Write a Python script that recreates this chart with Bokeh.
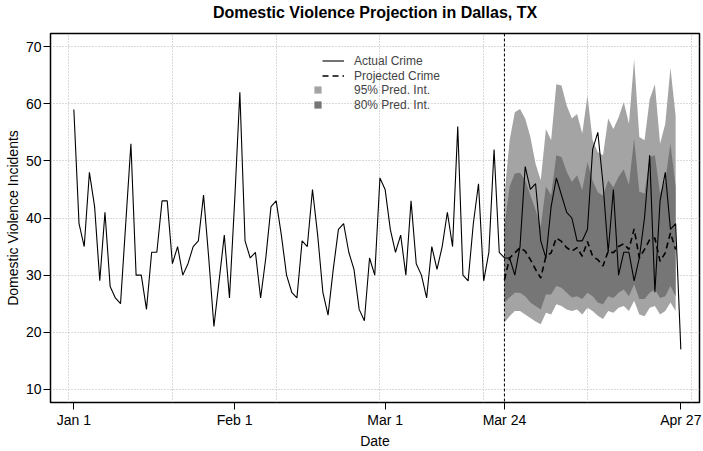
from datetime import date
from bokeh.plotting import figure
from bokeh.models import (ColumnDataSource, FixedTicker, Span, Legend, LegendItem, Range1d,
                          LinearAxis)
from bokeh.embed import file_html
from bokeh.resources import INLINE

# ---------------- data ----------------
start = date(2020, 1, 1)
# daily actual domestic violence incidents, Jan 1 - Apr 27, 2020
actual = [59, 39, 35, 48, 42, 29, 41, 28, 26, 25, 39, 53, 30, 30, 24, 34, 34, 43, 43, 32,
          35, 30, 32, 35, 36, 44, 33, 21, 29, 37, 26, 43, 62, 36, 33, 34, 26, 33, 42, 43,
          37, 30, 27, 26, 36, 35, 45, 37, 27, 23, 31, 38, 39, 34, 31, 24, 22, 33, 30, 47,
          45, 38, 34, 37, 30, 43, 32, 30, 26, 35, 31, 35, 41, 35, 56, 30, 29, 39, 46, 29,
          34, 52, 34,
          33, 33, 30, 35, 49, 45, 46, 36, 33, 42, 47, 44, 41, 40, 36, 36, 38, 52, 55, 46,
          34, 45, 30, 34, 34, 29, 33, 40, 51, 27, 43, 48, 38, 39, 17]
# projection Mar 24 - Apr 26
projected = [29.2, 33.0, 33.9, 34.8, 34.2, 32.7, 31.0, 29.5, 33.3, 33.9, 36.5, 35.9, 34.8,
             34.2, 34.8, 33.3, 35.9, 33.3, 32.7, 31.6, 34.2, 33.9, 35.0, 35.5, 34.5, 38.1,
             33.0, 34.5, 36.2, 36.5, 32.4, 33.9, 37.4, 34.5]
hi95 = [44.0, 53.6, 58.5, 59.1, 57.4, 54.2, 49.5, 46.6, 55.6, 53.6, 63.4, 63.2, 59.7, 57.4,
        58.2, 54.8, 61.4, 53.6, 51.5, 51.0, 57.4, 55.6, 57.6, 60.3, 56.5, 67.8, 54.2, 53.6,
        60.8, 63.4, 53.0, 56.5, 66.3, 57.9]
hi80 = [38.5, 45.5, 47.8, 47.9, 46.6, 44.0, 41.4, 38.5, 45.5, 44.0, 51.0, 50.7, 48.1, 46.3,
        47.5, 44.9, 49.8, 46.5, 44.5, 43.9, 46.6, 45.4, 47.2, 48.5, 45.8, 53.9, 44.6, 44.3,
        50.7, 51.0, 44.3, 46.6, 53.0, 45.5]
lo80 = [25.2, 26.1, 26.9, 26.9, 26.3, 25.2, 24.6, 24.0, 26.6, 26.6, 28.1, 27.8, 26.9, 26.1,
        26.3, 25.8, 26.9, 26.3, 25.2, 24.9, 26.3, 26.0, 26.9, 27.5, 26.3, 28.4, 25.8, 25.8,
        26.9, 27.5, 26.0, 26.3, 28.1, 26.3]
lo95 = [21.7, 22.8, 23.7, 23.7, 23.1, 22.5, 21.9, 21.4, 23.4, 23.1, 24.9, 24.6, 24.0, 23.7,
        24.0, 23.1, 24.3, 23.7, 22.9, 22.3, 23.7, 23.4, 24.3, 24.6, 23.7, 25.5, 23.1, 22.8,
        24.3, 24.6, 23.1, 23.7, 25.2, 23.7]
forecast_start = date(2020, 3, 24)

title_text = "Domestic Violence Projection in Dallas, TX"
tick_dates = [date(2020, 1, 1), date(2020, 2, 1), date(2020, 3, 1), date(2020, 3, 24), date(2020, 4, 27)]
tick_labels = ["Jan 1", "Feb 1", "Mar 1", "Mar 24", "Apr 27"]
grid_dates = [date(2019, 12, 31), date(2020, 1, 20), date(2020, 2, 9), date(2020, 2, 29),
              date(2020, 3, 20), date(2020, 4, 9), date(2020, 4, 29)]
y_ticks = [10, 20, 30, 40, 50, 60, 70]

# ---------------- build ----------------
def day(d):
    return (d - start).days

x_act = list(range(len(actual)))
f0 = day(forecast_start)
x_fc = [f0 + i for i in range(len(projected))]

src_act = ColumnDataSource(dict(x=x_act, y=actual))
src_fc = ColumnDataSource(dict(x=x_fc, y=projected, lo80=lo80, hi80=hi80, lo95=lo95, hi95=hi95))

FONT = "Liberation Sans"
p = figure(width=703, height=451, output_backend="svg", toolbar_location=None,
           x_range=Range1d(-4.5, 120.6), y_range=Range1d(7.7, 72.3),
           min_border_left=50, min_border_right=4, min_border_top=33, min_border_bottom=47,
           background_fill_color="white", border_fill_color="white")

p.outline_line_color = "black"
p.outline_line_width = 1.5

xa = p.below[0]
ya = p.left[0]

# title: an un-ticked axis above the frame, so its position can be set precisely
title_axis = LinearAxis(ticker=FixedTicker(ticks=[]), axis_label=title_text,
                        axis_line_color=None, major_tick_line_color=None,
                        minor_tick_line_color=None, major_tick_out=0, major_tick_in=0,
                        major_label_standoff=0,
                        axis_label_standoff=13, axis_label_text_font=FONT,
                        axis_label_text_font_size="16px", axis_label_text_font_style="bold",
                        axis_label_text_color="black")
p.add_layout(title_axis, "above")

# grids
p.xgrid.ticker = FixedTicker(ticks=[day(d) for d in grid_dates])
p.ygrid.ticker = FixedTicker(ticks=y_ticks)
for g in (p.xgrid, p.ygrid):
    g.grid_line_color = "#b4b4b4"
    g.grid_line_dash = "1 2"
    g.grid_line_width = 1

# axes
xa.ticker = FixedTicker(ticks=[day(d) for d in tick_dates])
xa.major_label_overrides = {day(d): lab for d, lab in zip(tick_dates, tick_labels)}
ya.ticker = FixedTicker(ticks=y_ticks)
xa.axis_label = "Date"
ya.axis_label = "Domestic Violence Incidents"
for ax in (xa, ya):
    ax.axis_line_color = None
    ax.major_tick_line_color = "black"
    ax.major_tick_line_width = 1
    ax.major_tick_out = 7
    ax.major_tick_in = 0
    ax.minor_tick_line_color = None
    ax.major_label_text_font = FONT
    ax.major_label_text_font_size = "14px"
    ax.major_label_text_color = "black"
    ax.axis_label_text_font = FONT
    ax.axis_label_text_font_size = "14px"
    ax.axis_label_text_font_style = "normal"
    ax.axis_label_text_color = "black"
    ax.major_label_standoff = 2
    ax.axis_label_standoff = 2

LIGHT = "#a4a4a4"
DARK = "#767676"
r95 = p.varea(x="x", y1="lo95", y2="hi95", source=src_fc, fill_color=LIGHT, fill_alpha=1)
r80 = p.varea(x="x", y1="lo80", y2="hi80", source=src_fc, fill_color=DARK, fill_alpha=1)

r_act = p.line(x="x", y="y", source=src_act, line_color="black", line_width=1.1)
r_fc = p.line(x="x", y="y", source=src_fc, line_color="black", line_width=1.6, line_dash="6 4")

p.add_layout(Span(location=f0, dimension="height", line_color="black",
                  line_width=1, line_dash="3 2"))


def mk_legend(items, loc, gw, gh, lh, sp, standoff):
    return Legend(items=items, location=loc, orientation="vertical",
                  glyph_width=gw, glyph_height=gh, label_height=lh, spacing=sp,
                  padding=0, margin=0, label_standoff=standoff,
                  label_text_font=FONT, label_text_font_size="12px",
                  background_fill_alpha=0, border_line_alpha=0)


lg1 = mk_legend([LegendItem(label="Actual Crime", renderers=[r_act]),
                 LegendItem(label="Projected Crime", renderers=[r_fc])],
                (272, 319), 22, 15, 15, 0, 10)
lg2 = mk_legend([LegendItem(label="95% Pred. Int.", renderers=[r95]),
                 LegendItem(label="80% Pred. Int.", renderers=[r80])],
                (263, 290), 9, 9, 15, 0, 32)
p.add_layout(lg1, "center")
p.add_layout(lg2, "center")

open("out.html", "w").write(file_html(p, INLINE))
